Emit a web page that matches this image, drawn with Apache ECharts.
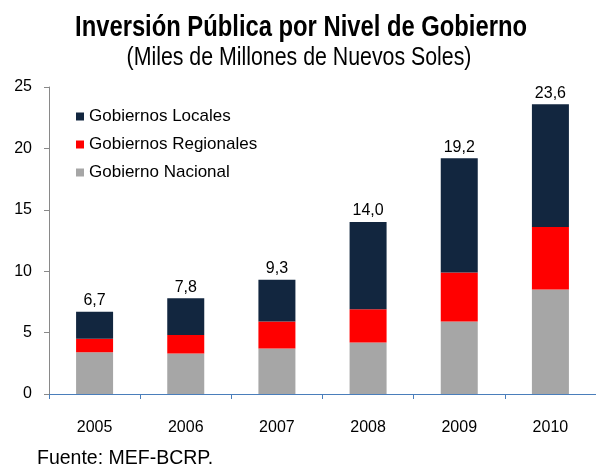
<!DOCTYPE html>
<html>
<head>
<meta charset="utf-8">
<script src="https://cdn.jsdelivr.net/npm/echarts@6/dist/echarts.min.js"></script>
<style>
  html, body { margin: 0; padding: 0; background: #fff; }
  #chart { width: 596px; height: 468px; }
</style>
</head>
<body>
<div id="chart"></div>
<script>
// Inversión pública por nivel de gobierno, miles de millones de soles
const years = ['2005', '2006', '2007', '2008', '2009', '2010'];
const gobiernoNacional = [3.4, 3.3, 3.7, 4.2, 5.9, 8.5];
const gobiernosRegionales = [1.1, 1.5, 2.2, 2.7, 4.0, 5.1];
const gobiernosLocales = [2.2, 3.0, 3.4, 7.1, 9.3, 10.0];
const yTicks = [0, 5, 10, 15, 20, 25];

// Total por año = suma de los tres niveles
const totals = years.map((_, i) =>
  gobiernoNacional[i] + gobiernosRegionales[i] + gobiernosLocales[i]);

const sans = '"Liberation Sans", Arial, sans-serif';
// Condensed headings: Liberation Sans squeezed horizontally
const condensed = 0.82;

const chart = echarts.init(document.getElementById('chart'), null, { renderer: 'canvas' });

chart.setOption({
  animation: false,
  backgroundColor: '#ffffff',
  graphic: [
    {
      type: 'text',
      x: 301,
      y: 28,
      scaleX: condensed,
      style: {
        text: 'Inversión Pública por Nivel de Gobierno',
        font: 'bold 29px ' + sans,
        fill: '#000',
        textAlign: 'center',
        textVerticalAlign: 'middle'
      }
    },
    {
      type: 'text',
      x: 299,
      y: 58,
      scaleX: condensed,
      style: {
        text: '(Miles de Millones de Nuevos Soles)',
        font: '26px ' + sans,
        fill: '#000',
        textAlign: 'center',
        textVerticalAlign: 'middle'
      }
    },
    {
      type: 'text',
      x: 37,
      y: 459,
      style: {
        text: 'Fuente: MEF-BCRP.',
        font: '19.5px ' + sans,
        fill: '#000',
        textAlign: 'left',
        textVerticalAlign: 'middle'
      }
    }
  ],
  legend: {
    orient: 'vertical',
    left: 76,
    top: 108,
    padding: 0,
    itemWidth: 8,
    itemHeight: 8,
    itemGap: 11,
    icon: 'rect',
    data: ['Gobiernos Locales', 'Gobiernos Regionales', 'Gobierno Nacional'],
    textStyle: { fontFamily: sans, fontSize: 17, color: '#000' }
  },
  grid: { left: 49, right: -5, top: 87, bottom: 74, containLabel: false },
  xAxis: {
    type: 'category',
    data: years,
    axisLine: { lineStyle: { color: '#4a7ebb', width: 1 } },
    axisTick: { show: true, length: 5, lineStyle: { color: '#4a7ebb' } },
    axisLabel: { fontFamily: sans, fontSize: 16, color: '#000', margin: 26 }
  },
  yAxis: {
    type: 'value',
    min: yTicks[0],
    max: yTicks[yTicks.length - 1],
    interval: yTicks[1] - yTicks[0],
    splitLine: { show: false },
    axisLine: { show: true, lineStyle: { color: '#898989' } },
    axisTick: { show: true, length: 5, lineStyle: { color: '#898989' } },
    axisLabel: { fontFamily: sans, fontSize: 16, color: '#000', margin: 17 }
  },
  series: [
    {
      name: 'Gobierno Nacional',
      type: 'bar',
      stack: 'total',
      barWidth: 37,
      itemStyle: { color: '#a6a6a6' },
      data: gobiernoNacional
    },
    {
      name: 'Gobiernos Regionales',
      type: 'bar',
      stack: 'total',
      barWidth: 37,
      itemStyle: { color: '#ff0000' },
      data: gobiernosRegionales
    },
    {
      name: 'Gobiernos Locales',
      type: 'bar',
      stack: 'total',
      barWidth: 37,
      itemStyle: { color: '#12263f' },
      data: gobiernosLocales,
      label: {
        show: true,
        position: 'top',
        distance: 3,
        fontFamily: sans,
        fontSize: 16,
        color: '#000',
        formatter: p => totals[p.dataIndex].toFixed(1).replace('.', ',')
      }
    }
  ]
});
</script>
</body>
</html>
